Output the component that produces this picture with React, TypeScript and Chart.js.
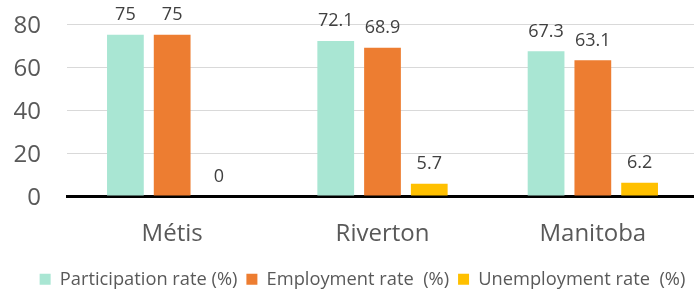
import React, { useEffect, useRef } from "react";
import { Chart, registerables } from "chart.js";

Chart.register(...registerables);

const categories = ["Métis", "Riverton", "Manitoba"];
const participationRate = [75, 72.1, 67.3];
const employmentRate = [75, 68.9, 63.1];
const unemploymentRate = [0, 5.7, 6.2];
const seriesLabels = ["Participation rate (%)", "Employment rate  (%)", "Unemployment rate  (%)"];
const seriesColors = ["#A9E6D3", "#ED7D31", "#FFC000"];
const yTicks = [0, 20, 40, 60, 80];

const FONT = "'Open Sans', sans-serif";

const valueLabels = {
  id: "valueLabels",
  afterDatasetsDraw(chart: any) {
    const ctx = chart.ctx;
    ctx.save();
    ctx.font = `18px ${FONT}`;
    ctx.fillStyle = "#404040";
    ctx.textAlign = "center";
    ctx.textBaseline = "alphabetic";
    chart.data.datasets.forEach((ds: any, i: number) => {
      const meta = chart.getDatasetMeta(i);
      meta.data.forEach((bar: any, j: number) => {
        const v = ds.data[j];
        ctx.fillText(String(v), bar.x, bar.y - 14.5);
      });
    });
    ctx.restore();
  },
};

// shift the legend's centring box so it is centred where the original one is
const legendShift = {
  id: "legendShift",
  afterLayout(chart: any) {
    const lg = chart.legend;
    if (lg) {
      lg.left += 27;
      lg.width = lg.right - lg.left;
    }
  },
};

export default function App() {
  const ref = useRef<HTMLCanvasElement | null>(null);

  useEffect(() => {
    if (!ref.current) return;
    const seriesData = [participationRate, employmentRate, unemploymentRate];
    const chart = new Chart(ref.current, {
      type: "bar",
      data: {
        labels: categories,
        datasets: seriesData.map((d, i) => ({
          label: seriesLabels[i],
          data: d,
          backgroundColor: seriesColors[i],
          borderWidth: 0,
          barPercentage: 0.786,
          categoryPercentage: 0.667,
        })),
      },
      options: {
        responsive: false,
        animation: false,
        devicePixelRatio: 1,
        layout: { padding: { top: 24, left: 0, right: 0, bottom: -4.5 } },
        plugins: {
          tooltip: { enabled: false },
          legend: {
            position: "bottom",
            labels: {
              boxWidth: 11,
              boxHeight: 11,
              padding: 9,
              color: "#595959",
              font: { family: FONT, size: 18.3 },
            },
          },
        },
        scales: {
          x: {
            grid: { display: false, drawTicks: false },
            border: { display: true, color: "#000000", width: 3 },
            ticks: { font: { family: FONT, size: 24 }, color: "#595959", padding: 24 },
            afterFit(s: any) {
              s.height = 65.2;
              s.paddingLeft = 0;
              s.paddingRight = 0;
            },
          },
          y: {
            min: 0,
            max: 80,
            afterBuildTicks(s: any) {
              s.ticks = yTicks.map((v) => ({ value: v }));
            },
            grid: {
              color: (c: any) => (c.tick && c.tick.value === 0 ? "rgba(0,0,0,0)" : "#D9D9D9"),
              lineWidth: 1,
              drawTicks: false,
            },
            border: { display: false },
            ticks: {
              font: { family: FONT, size: 24 },
              color: "#595959",
              padding: 26,
              labelOffset: 2.5,
            },
            afterFit(s: any) {
              s.width = 67;
              s.paddingTop = 0;
              s.paddingBottom = 0;
            },
          },
        },
      },
      plugins: [valueLabels, legendShift],
    } as any);
    return () => chart.destroy();
  }, []);

  return (
    <div style={{ position: "fixed", left: 0, top: 0, width: 694, height: 294, overflow: "hidden", background: "#fff" }}>
      <canvas ref={ref} width={698} height={294} style={{ display: "block", width: 698, height: 294 }} />
    </div>
  );
}
